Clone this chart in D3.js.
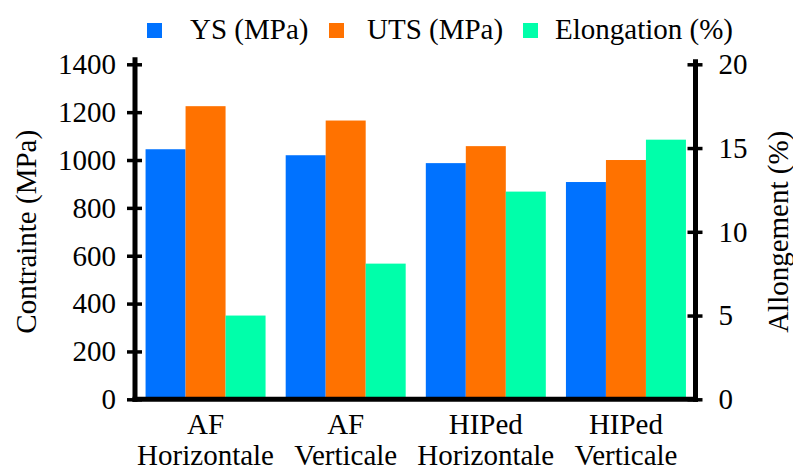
<!DOCTYPE html>
<html>
<head>
<meta charset="utf-8">
<script src="https://cdn.jsdelivr.net/npm/d3@7"></script>
<style>
  html, body { margin: 0; padding: 0; background: #fff; }
  svg { display: block; }
</style>
</head>
<body>
<svg id="chart" width="793" height="468"></svg>
<script>
// ---- Data ----
const categories = ["AF Horizontale", "AF Verticale", "HIPed Horizontale", "HIPed Verticale"];
const catLine1 = ["AF", "AF", "HIPed", "HIPed"];
const catLine2 = ["Horizontale", "Verticale", "Horizontale", "Verticale"];
const seriesNames = ["YS (MPa)", "UTS (MPa)", "Elongation (%)"];
const ysValues = [1045, 1020, 987, 908];
const utsValues = [1225, 1165, 1058, 1000];
const elongationValues = [5.0, 8.1, 12.4, 15.5];
const leftTicks = [0, 200, 400, 600, 800, 1000, 1200, 1400];
const rightTicks = [0, 5, 10, 15, 20];
const colors = ["#0072ff", "#ff7200", "#00ffaa"];

// ---- Layout ----
const svg = d3.select("#chart");
const FONT = "Liberation Serif";
const FS = 29;
const plotLeft = 135, plotRight = 695.5, plotTop = 64.3, plotBottom = 399.3;

const x0 = d3.scaleBand().domain(categories).range([plotLeft + 0.5, plotRight + 0.5]).paddingInner(0).paddingOuter(0);
const groupWidth = 120;
const x1 = d3.scaleBand().domain(seriesNames).range([0, groupWidth]);
const yL = d3.scaleLinear().domain([0, 1400]).range([plotBottom, plotTop]);
const yR = d3.scaleLinear().domain([0, 20]).range([plotBottom, plotTop]);

const rows = categories.map((c, i) => ({
  cat: c,
  vals: [
    { s: seriesNames[0], v: ysValues[i], y: yL, color: colors[0] },
    { s: seriesNames[1], v: utsValues[i], y: yL, color: colors[1] },
    { s: seriesNames[2], v: elongationValues[i], y: yR, color: colors[2] }
  ]
}));

// bars
const groups = svg.append("g").selectAll("g").data(rows).join("g")
  .attr("transform", d => `translate(${x0(d.cat) + (x0.bandwidth() - groupWidth) / 2},0)`);
groups.selectAll("rect").data(d => d.vals).join("rect")
  .attr("x", d => x1(d.s))
  .attr("width", x1.bandwidth())
  .attr("y", d => d.y(d.v))
  .attr("height", d => d.y(0) - d.y(d.v))
  .attr("fill", d => d.color);

// left axis
const axL = svg.append("g").attr("transform", `translate(${plotLeft},0)`)
  .call(d3.axisLeft(yL).tickValues(leftTicks).tickSize(8).tickPadding(11).tickFormat(d3.format("d")));
axL.attr("font-family", FONT).attr("font-size", FS);
axL.select(".domain").remove();
axL.selectAll(".tick line").attr("x1", 7).attr("stroke", "#000").attr("stroke-width", 3.5);
axL.append("line").attr("x1", 0).attr("x2", 0).attr("y1", plotTop - 7).attr("y2", plotBottom + 2.5)
  .attr("stroke", "#000").attr("stroke-width", 5);

// right axis
const axR = svg.append("g").attr("transform", `translate(${plotRight},0)`)
  .call(d3.axisRight(yR).tickValues(rightTicks).tickSize(7).tickPadding(16).tickFormat(d3.format("d")));
axR.attr("font-family", FONT).attr("font-size", FS);
axR.select(".domain").remove();
axR.selectAll(".tick line").attr("x1", -8).attr("stroke", "#000").attr("stroke-width", 3.5);
axR.append("line").attr("x1", 0).attr("x2", 0).attr("y1", plotTop - 5).attr("y2", plotBottom + 2.5)
  .attr("stroke", "#000").attr("stroke-width", 5);

// bottom axis line
svg.append("line").attr("x1", plotLeft - 2.5).attr("x2", plotRight + 2.5)
  .attr("y1", plotBottom).attr("y2", plotBottom)
  .attr("stroke", "#000").attr("stroke-width", 5);

// category labels
const catG = svg.append("g").selectAll("text").data(categories).join("text")
  .attr("text-anchor", "middle")
  .attr("x", d => x0(d) + x0.bandwidth() / 2);
catG.append("tspan").attr("x", d => x0(d) + x0.bandwidth() / 2).attr("y", 434).text((d, i) => catLine1[i]);
catG.append("tspan").attr("x", d => x0(d) + x0.bandwidth() / 2).attr("y", 465).text((d, i) => catLine2[i]);

// axis titles
svg.append("text").attr("transform", `translate(36,${(plotTop + plotBottom) / 2}) rotate(-90)`)
  .attr("text-anchor", "middle").text("Contrainte (MPa)");
svg.append("text").attr("transform", `translate(788,${(plotTop + plotBottom) / 2}) rotate(-90)`)
  .attr("text-anchor", "middle").text("Allongement (%)");

// legend
const legendSquareX = [147, 329, 523];
const legendTextX = [190, 367, 555];
const leg = svg.append("g").selectAll("g").data(seriesNames).join("g");
leg.append("rect").attr("x", (d, i) => legendSquareX[i]).attr("y", 23).attr("width", 15).attr("height", 15)
  .attr("fill", (d, i) => colors[i]);
leg.append("text").attr("x", (d, i) => legendTextX[i]).attr("y", 39).text(d => d);

// font for every text
svg.selectAll("text").attr("font-family", FONT).attr("font-size", FS).attr("fill", "#000");
</script>
</body>
</html>
